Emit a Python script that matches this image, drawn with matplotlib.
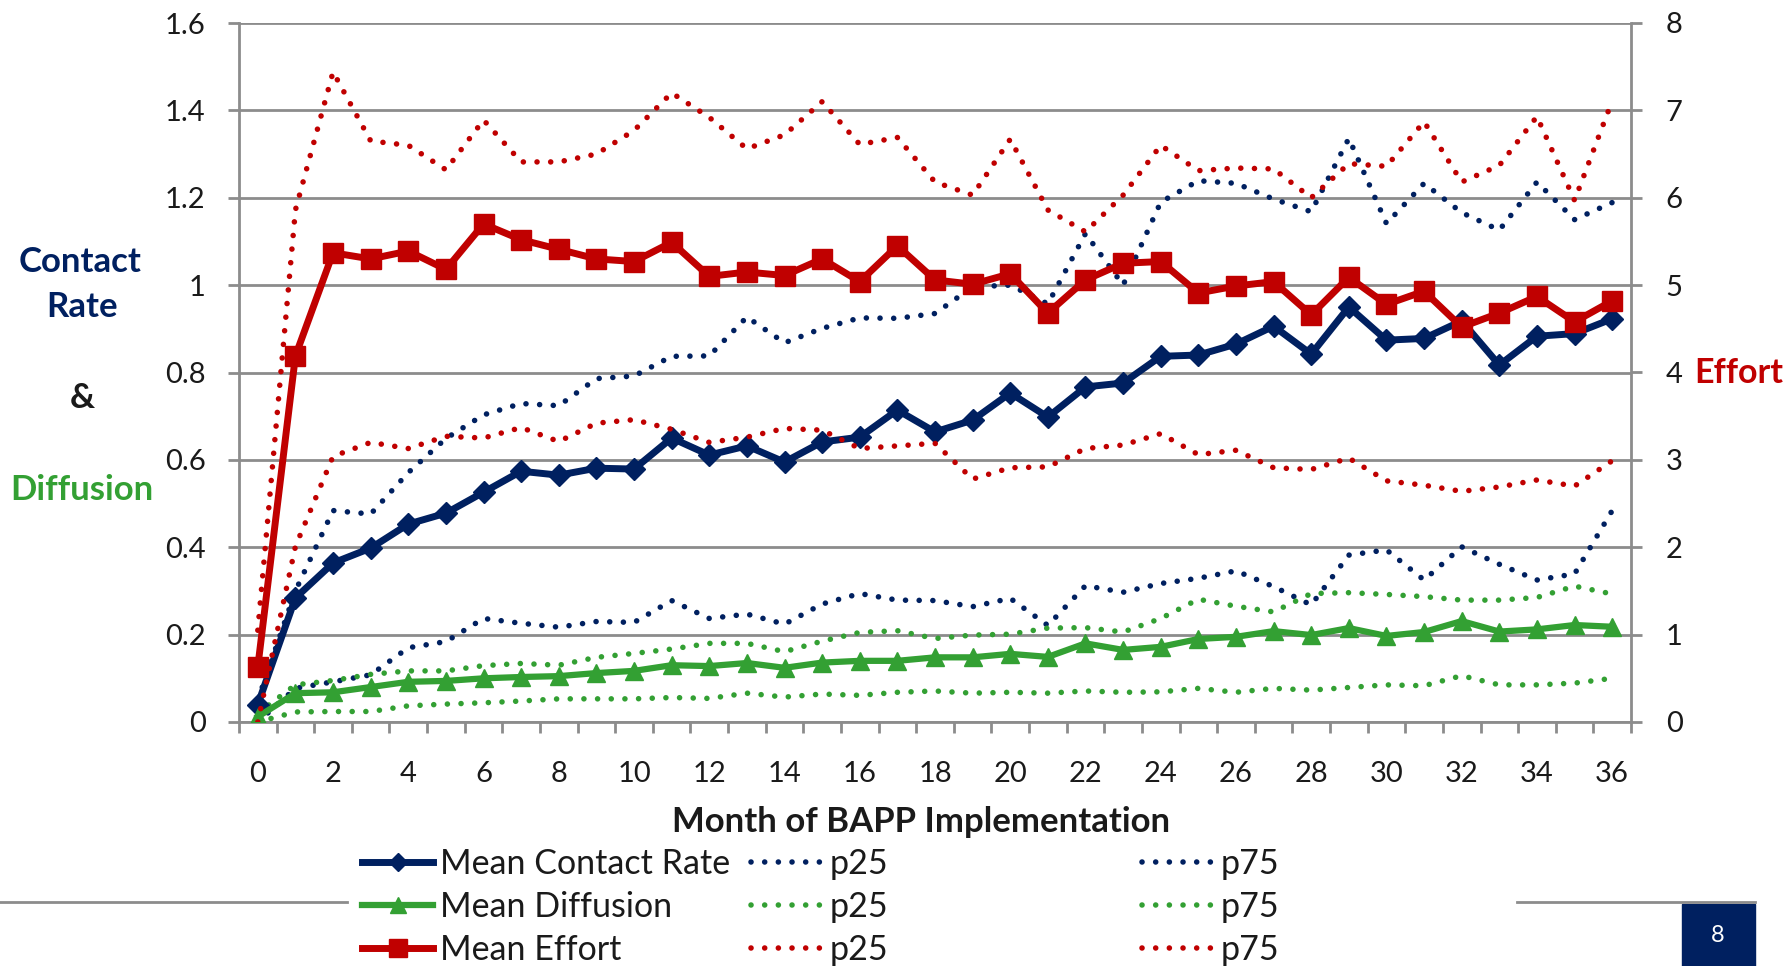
import numpy as np
import matplotlib
matplotlib.use("Agg")
import matplotlib.pyplot as plt
from matplotlib.lines import Line2D
from matplotlib.patches import Rectangle
from matplotlib.ticker import FixedLocator, FuncFormatter

plt.rcParams['font.family'] = ['Lato', 'DejaVu Sans']

# ---- data -------------------------------------------------------------
months = list(range(37))
x_tick_labels = [str(m) for m in range(0, 37, 2)]

mean_contact = [0.040, 0.284, 0.364, 0.398, 0.453, 0.478, 0.526, 0.574, 0.565, 0.581,
                0.579, 0.650, 0.611, 0.632, 0.595, 0.641, 0.652, 0.714, 0.664, 0.691,
                0.753, 0.698, 0.767, 0.776, 0.837, 0.840, 0.865, 0.906, 0.842, 0.950,
                0.874, 0.878, 0.918, 0.817, 0.883, 0.889, 0.923]
p25_contact = [0.000, 0.077, 0.092, 0.108, 0.170, 0.184, 0.237, 0.226, 0.217, 0.230,
               0.228, 0.278, 0.237, 0.247, 0.224, 0.270, 0.294, 0.279, 0.278, 0.264,
               0.283, 0.221, 0.312, 0.297, 0.317, 0.329, 0.346, 0.310, 0.268, 0.382,
               0.394, 0.325, 0.401, 0.361, 0.325, 0.339, 0.484]
p75_contact = [0.050, 0.300, 0.484, 0.476, 0.571, 0.649, 0.703, 0.729, 0.724, 0.786,
               0.792, 0.837, 0.838, 0.927, 0.868, 0.901, 0.925, 0.924, 0.935, 0.996,
               1.000, 0.957, 1.118, 1.000, 1.190, 1.239, 1.233, 1.197, 1.168, 1.336,
               1.141, 1.233, 1.166, 1.126, 1.236, 1.150, 1.189]

mean_diffusion = [0.012, 0.066, 0.068, 0.080, 0.092, 0.094, 0.100, 0.103, 0.105, 0.112,
                  0.117, 0.130, 0.128, 0.135, 0.124, 0.136, 0.140, 0.140, 0.148, 0.148,
                  0.156, 0.149, 0.180, 0.165, 0.172, 0.190, 0.195, 0.208, 0.199, 0.215,
                  0.197, 0.206, 0.231, 0.207, 0.212, 0.222, 0.218]
p25_diffusion = [0.000, 0.023, 0.024, 0.024, 0.037, 0.041, 0.044, 0.048, 0.053, 0.053,
                 0.053, 0.056, 0.054, 0.066, 0.057, 0.064, 0.061, 0.068, 0.071, 0.066,
                 0.068, 0.066, 0.071, 0.068, 0.069, 0.077, 0.068, 0.077, 0.073, 0.079,
                 0.085, 0.083, 0.106, 0.085, 0.085, 0.089, 0.100]
p75_diffusion = [0.020, 0.085, 0.095, 0.109, 0.117, 0.117, 0.129, 0.134, 0.130, 0.148,
                 0.157, 0.167, 0.180, 0.180, 0.161, 0.185, 0.205, 0.209, 0.191, 0.199,
                 0.201, 0.215, 0.216, 0.206, 0.237, 0.281, 0.265, 0.252, 0.294, 0.296,
                 0.292, 0.287, 0.279, 0.279, 0.285, 0.311, 0.293]

mean_effort = [0.63, 4.19, 5.37, 5.30, 5.39, 5.18, 5.70, 5.52, 5.41, 5.30,
               5.27, 5.49, 5.10, 5.15, 5.11, 5.30, 5.04, 5.45, 5.06, 5.01,
               5.13, 4.68, 5.06, 5.25, 5.27, 4.91, 4.99, 5.04, 4.66, 5.09,
               4.78, 4.93, 4.52, 4.68, 4.87, 4.58, 4.82]
p25_effort = [0.00, 2.01, 3.04, 3.20, 3.13, 3.27, 3.25, 3.37, 3.21, 3.42,
              3.46, 3.35, 3.20, 3.26, 3.36, 3.34, 3.13, 3.16, 3.19, 2.78,
              2.91, 2.92, 3.13, 3.17, 3.30, 3.06, 3.11, 2.91, 2.89, 3.02,
              2.76, 2.71, 2.64, 2.69, 2.77, 2.70, 2.99]
p75_effort = [1.05, 5.86, 7.44, 6.65, 6.60, 6.32, 6.89, 6.41, 6.41, 6.50,
              6.77, 7.20, 6.92, 6.56, 6.72, 7.10, 6.61, 6.69, 6.18, 6.03,
              6.67, 5.86, 5.61, 6.03, 6.60, 6.31, 6.34, 6.33, 6.00, 6.39,
              6.36, 6.87, 6.18, 6.37, 6.93, 5.97, 7.11]

left_ticks = [0, 0.2, 0.4, 0.6, 0.8, 1.0, 1.2, 1.4, 1.6]
right_ticks = [0, 1, 2, 3, 4, 5, 6, 7, 8]

# ---- style --------------------------------------------------------------
NAVY = '#002060'
GREEN = '#33A033'
RED = '#C00000'
GRID = '#8C8C8C'
TEXT = '#1A1A1A'
W, H = 1785, 966

dotted = dict(lw=4.0, linestyle=(0, (0.01, 2.45)), dash_capstyle='round')

fig = plt.figure(figsize=(W / 100, H / 100), dpi=100)
fig.patch.set_facecolor('white')
ax = fig.add_axes([239 / W, 1 - 722 / H, (1631 - 239) / W, (722 - 23) / H])
ax2 = ax.twinx()

# primary axis: contact rate & diffusion
l_p25c, = ax.plot(months, p25_contact, color=NAVY, label='p25', zorder=3, **dotted)
l_p75c, = ax.plot(months, p75_contact, color=NAVY, label='p75', zorder=3, **dotted)
l_p25d, = ax.plot(months, p25_diffusion, color=GREEN, label='p25', zorder=3, **dotted)
l_p75d, = ax.plot(months, p75_diffusion, color=GREEN, label='p75', zorder=3, **dotted)
l_mc, = ax.plot(months, mean_contact, color=NAVY, lw=5, marker='D', ms=11.2,
                label='Mean Contact Rate', zorder=4)
l_md, = ax.plot(months, mean_diffusion, color=GREEN, lw=4.5, marker='^', ms=13.5,
                label='Mean Diffusion', zorder=4)

# secondary axis: effort
l_p25e, = ax2.plot(months, p25_effort, color=RED, label='p25', zorder=3, **dotted)
l_p75e, = ax2.plot(months, p75_effort, color=RED, label='p75', zorder=3, **dotted)
l_me, = ax2.plot(months, mean_effort, color=RED, lw=5, marker='s', ms=15,
                 label='Mean Effort', zorder=4)

# axes limits / ticks
ax.set_xlim(-0.5, 36.5)
ax.set_ylim(0, 1.6)
ax2.set_ylim(0, 8)

ax.set_xticks(range(0, 37, 2))
ax.set_xticklabels(x_tick_labels)
ax.xaxis.set_minor_locator(FixedLocator(np.arange(-0.5, 37, 1)))
ax.tick_params(axis='x', which='major', length=0, pad=28, labelsize=21, labelcolor=TEXT)
ax.tick_params(axis='x', which='minor', length=8, width=2, color=GRID, direction='out')

ax.set_yticks(left_ticks)
ax.yaxis.set_major_formatter(FuncFormatter(lambda v, p: f"{v:g}"))
ax.tick_params(axis='y', length=8, width=2, color=GRID, pad=16, labelsize=21,
               labelcolor=TEXT)
ax2.set_yticks(right_ticks)
ax2.yaxis.set_major_formatter(FuncFormatter(lambda v, p: f"{v:g}"))
ax2.tick_params(axis='y', length=8, width=2, color=GRID, pad=17, labelsize=21,
                labelcolor=TEXT)

ax.yaxis.grid(True, color=GRID, lw=2)
ax.set_axisbelow(True)
for s in ['top', 'right']:
    ax.spines[s].set_visible(False)
for s in ['left', 'bottom']:
    ax.spines[s].set_color(GRID)
    ax.spines[s].set_linewidth(2)
for s in ['top', 'left', 'bottom']:
    ax2.spines[s].set_visible(False)
ax2.spines['right'].set_color(GRID)
ax2.spines['right'].set_linewidth(2)

ax.set_xlabel('Month of BAPP Implementation', fontsize=25, fontweight='bold',
              color=TEXT, va='center')
ax.xaxis.set_label_coords((921 - 239) / 1392, (722 - 822) / 699)

# axis titles
def px_text(x, y, s, **kw):
    fig.text(x / W, 1 - y / H, s, **kw)

px_text(80, 262, 'Contact', color=NAVY, fontsize=25, fontweight='bold', ha='center', va='center')
px_text(82, 307, 'Rate', color=NAVY, fontsize=25, fontweight='bold', ha='center', va='center')
px_text(82, 398, '&', color=TEXT, fontsize=25, fontweight='bold', ha='center', va='center')
px_text(82, 490, 'Diffusion', color=GREEN, fontsize=25, fontweight='bold', ha='center', va='center')
px_text(1694, 373, 'Effort', color=RED, fontsize=24.5, fontweight='bold', ha='left', va='center')

# legend, three equal-width columns
leg_kw = dict(loc='center left', frameon=False, fontsize=24.5, borderpad=0,
              borderaxespad=0, handlelength=2.1, handletextpad=0.2,
              labelspacing=0.33, numpoints=1, markerscale=0.85, labelcolor=TEXT)
columns = [([l_mc, l_md, l_me], 362), ([l_p25c, l_p25d, l_p25e], 751),
           ([l_p75c, l_p75d, l_p75e], 1142)]
for handles, x0 in columns:
    fig.legend(handles=handles, labels=[h.get_label() for h in handles],
               bbox_to_anchor=(x0 / W, 1 - 907 / H), **leg_kw)

# page decoration: rule lines and page number box
for xa, xb in [(0, 347), (1517, 1755)]:
    fig.add_artist(Line2D([xa / W, xb / W], [1 - 902 / H] * 2, color=GRID, lw=2,
                          transform=fig.transFigure))
fig.add_artist(Rectangle((1682 / W, 0), 73 / W, (966 - 904) / H, color=NAVY,
                         transform=fig.transFigure))
px_text(1718, 935, '8', color='white', fontsize=17, ha='center', va='center')

fig.savefig('out.png', dpi=100, facecolor='white')
